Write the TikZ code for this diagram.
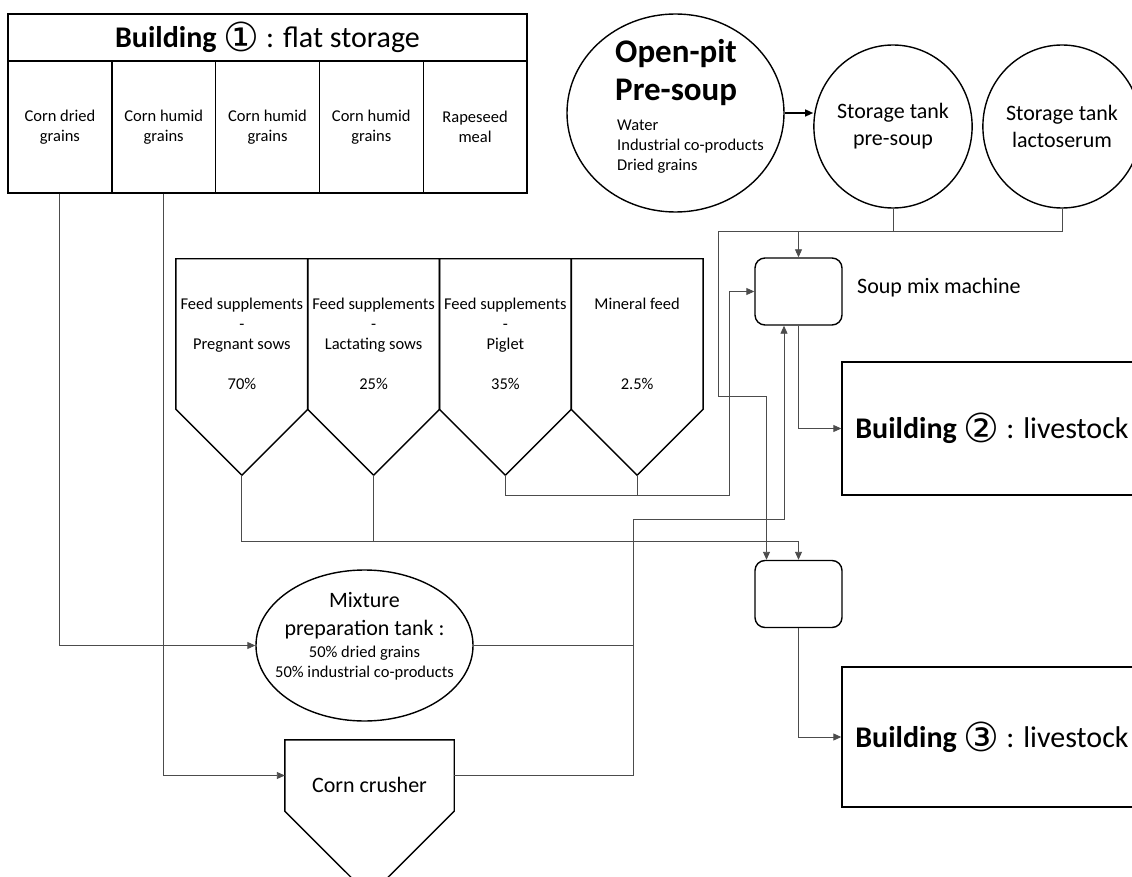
\documentclass[tikz,border=0pt]{standalone}
\usepackage{fontspec}
\setmainfont{Carlito}
\newfontfamily\circfont{DejaVu Sans}
\usetikzlibrary{shapes,positioning,calc,arrows.meta}

\newcommand{\bnum}[1]{{\circfont\fontsize{40}{40}\selectfont\raisebox{-4pt}{#1}}}

\begin{document}
\begin{tikzpicture}[x=1pt, y=-1pt,
    >={Triangle[length=8pt,width=7pt]},
    box/.style={draw, line width=1.4pt, inner sep=0pt},
    flow/.style={draw=black!70, line width=0.9pt},
    bigtext/.style={font=\fontsize{30}{36}\selectfont},
    midtext/.style={font=\fontsize{22}{27}\selectfont},
    smalltext/.style={font=\fontsize{16.5}{20}\selectfont},
    bin/.style={box, smalltext, align=center, minimum width=103.8pt, minimum height=132pt},
    silo/.style={smalltext, align=center, inner sep=0pt, minimum width=131.75pt, minimum height=170pt},
    tank/.style={box, ellipse, midtext, align=center, minimum width=148pt, minimum height=163pt},
    mixer/.style={box, rounded corners=10pt, minimum width=87pt, minimum height=67pt},
    shed/.style={box, bigtext, minimum width=300pt}]

    \path[use as bounding box, fill=white] (0,0) rectangle (1132,877);
    \clip (0,0) rectangle (1132,877);

    \node (b1) at (267.5,37.5) [box, bigtext, minimum width=519pt, minimum height=47pt] {\textbf{Building} \bnum{①} : flat storage};
    \node (c1) at (59.9,127) [bin] {Corn dried\\grains};
    \node (c2) at (163.7,127) [bin] {Corn humid\\grains};
    \node (c3) at (267.5,127) [bin] {Corn humid\\grains};
    \node (c4) at (371.3,127) [bin] {Corn humid\\grains};
    \node (c5) at (475.1,127) [bin] {Rapeseed\\meal};

    \node (pit) at (675.5,113) [box, ellipse, minimum width=217pt, minimum height=198pt] {};
    \node (pit title) at (615,39) [anchor=north west, inner sep=0pt, align=left, font=\fontsize{33}{38}\selectfont\bfseries] {Open-pit\\Pre-soup};
    \node (pit list) at (617,120) [anchor=north west, inner sep=0pt, align=left, font=\fontsize{16.5}{20}\selectfont] {Water\\Industrial co-products\\Dried grains};
    \node (presoup) at (893,126.5) [tank] {Storage tank\\pre-soup};
    \node (lacto) at (1062,126.5) [tank] {Storage tank\\lactoserum};

    \node (s1) at (241.9,344) [silo] {Feed supplements\\-\\Pregnant sows\\[20pt]70\%};
    \node (s2) at (373.6,344) [silo] {Feed supplements\\-\\Lactating sows\\[20pt]25\%};
    \node (s3) at (505.4,344) [silo] {Feed supplements\\-\\Piglet\\[20pt]35\%};
    \node (s4) at (637.1,344) [silo] {Mineral feed\\~\\~\\[20pt]2.5\%};
    \draw[box] (s1.north west) -- ([yshift=20pt]s1.south west) -- ([yshift=-46pt]s1.south) coordinate (t1) -- ([yshift=20pt]s1.south east) -- (s1.north east) -- cycle;
    \draw[box] (s2.north west) -- ([yshift=20pt]s2.south west) -- ([yshift=-46pt]s2.south) coordinate (t2) -- ([yshift=20pt]s2.south east) -- (s2.north east) -- cycle;
    \draw[box] (s3.north west) -- ([yshift=20pt]s3.south west) -- ([yshift=-46pt]s3.south) coordinate (t3) -- ([yshift=20pt]s3.south east) -- (s3.north east) -- cycle;
    \draw[box] (s4.north west) -- ([yshift=20pt]s4.south west) -- ([yshift=-46pt]s4.south) coordinate (t4) -- ([yshift=20pt]s4.south east) -- (s4.north east) -- cycle;

    \node (mix) at (364.5,645.5) [box, ellipse, minimum width=217pt, minimum height=151pt] {};
    \node (mix text) at ([yshift=9pt]mix.center) [align=center, inner sep=0pt, smalltext] {{\fontsize{22}{27}\selectfont Mixture}\\[8pt]{\fontsize{22}{27}\selectfont preparation tank :}\\[2pt]50\% dried grains\\50\% industrial co-products};
    \node (crusher) at (369.5,775.5) [midtext, minimum width=169pt, minimum height=71pt, inner sep=0pt, text height=35pt] {Corn crusher};
    \draw[box] (crusher.north west) -- (crusher.north east) -- (crusher.south east) -- ([yshift=-84.5pt]crusher.south) -- (crusher.south west) -- cycle;

    \node (soup) at (798.5,291.5) [mixer] {};
    \node (soup label) [right=11pt of soup, yshift=4pt, midtext] {Soup mix machine};
    \node (mix2) at (798.5,594) [mixer] {};
    \node (b2) at (992,428.5) [shed, minimum height=133pt] {\textbf{Building} \bnum{②} : livestock};
    \node (b3) at (992,737) [shed, minimum height=140pt] {\textbf{Building} \bnum{③} : livestock};

    \coordinate (liquid) at (718,231);
    \coordinate (loop) at (718,396);
    \coordinate (feedbus) at (798.5,541);
    \coordinate (minbus) at (729,495);
    \coordinate (grainbus) at (633,519);

    \draw[box,->] (pit.east) -- (presoup.west |- pit.east);
    \draw[flow] (presoup.south) -- (presoup.south |- liquid);
    \draw[flow,->] (lacto.south) |- (liquid) -- (loop) -| ([xshift=-32pt]mix2.north);
    \draw[flow,->] (soup.north |- liquid) -- (soup.north);
    \draw[flow,->] (t1) |- (feedbus) -- (mix2.north);
    \draw[flow] (t2) -- (t2 |- feedbus);
    \draw[flow,->] (t3) |- (minbus) |- (soup.west);
    \draw[flow] (t4) -- (t4 |- minbus);
    \draw[flow,->] (c1.south) |- (mix.west);
    \draw[flow,->] (c2.south) |- (crusher.west);
    \draw[flow,->] (crusher.east) -| (grainbus) -| ([xshift=-14.5pt]soup.south);
    \draw[flow] (mix.east) -- (mix.east -| grainbus);
    \draw[flow,->] (soup.south) |- (b2.west);
    \draw[flow,->] (mix2.south) |- (b3.west);
\end{tikzpicture}
\end{document}
